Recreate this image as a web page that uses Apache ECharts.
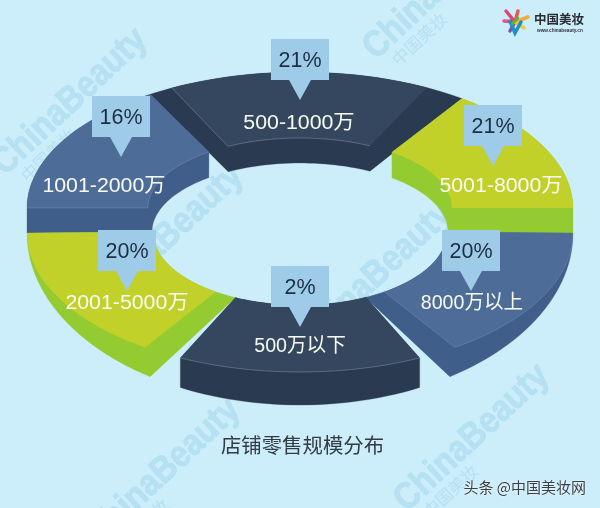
<!DOCTYPE html>
<html><head><meta charset="utf-8">
<style>html,body{margin:0;padding:0;background:#CCEEFB}#c{width:600px;height:508px}</style>
<script src="https://cdn.jsdelivr.net/npm/echarts@6/dist/echarts.min.js"></script>
</head><body><div id="c"></div>
<script>
const categories = ['500-1000万','1001-2000万','5001-8000万','2001-5000万','8000万以上','500万以下'];
const shares = [21,16,21,20,20,2];
const chartTitle = '店铺零售规模分布';
const footerText = '头条 @中国美妆网';
const brandName = '中国美妆';
const brandUrl = 'www.chinabeauty.cn';

const FONT = '"Liberation Sans","Noto Sans CJK SC",sans-serif';
const NAVY = {face:'#34475F', wall:'#2A3A51', edge:'rgba(215,230,245,0.32)'};
const BLUE = {face:'#4D6C98', wall:'#3F5E89', edge:'rgba(215,230,245,0.2)'};
const LIME = {face:'#C2D02A', wall:'#94CB31', edge:null};

// Ellipses of the tilted ring
const E = {
  upO:{cy:208,a:273,b:-136}, upI:{cy:208,a:152,b:-70}, inH:{cy:232,a:148,b:-69},
  loF:{cy:233,a:273,b:139},  loH:{cy:233,a:273,b:172}, loI:{cy:232,a:147,b:73}
};
// Each slice: colour, wall outline, top face and lit edge as runs along those ellipses [ellipse, from°, to°]
const sliceShapes = [
 {c:NAVY, hull:[['upO',123.3,53.6],['inH',61.8,119]], face:[['upO',118,62.3],['upI',62.6,118.3]], edge:[['upO',118,118],['upI',118.3,62.6]]},
 {c:BLUE, hull:[['upO',123.3,180],['loH',180,180],['inH',180,128],['upI',126.8,126.8]], face:[['upO',123.3,180],['upI',180,126.8]], edge:[['upO',180,180],['upI',180,126.8]]},
 {c:LIME, hull:[['upO',53.6,0],['loH',0,0],['inH',0,51.6],['upI',52.8,52.8]], face:[['upO',53.6,0],['upI',0,52.8]]},
 {c:LIME, hull:[['loH',180,123.3],['loI',116,180]], face:[['loF',180,124.6],['loI',124.9,180]]},
 {c:BLUE, hull:[['loH',0,56.7],['loI',63.6,0]], face:[['loF',0,55.4],['loI',55.1,0]], edge:[['loF',0,55.4],['loI',55.1,55.1]]},
 {c:NAVY, hull:[['loF',116,116],['loH',116,64],['loF',64,64],['loI',63.4,116]], face:[['loF',116,64],['loI',63.4,116]], edge:[['loF',116,64]]}
];
// Callout box centre x, box top, and name-label centre
const calloutLayout = [
 {x:300,top:39, lx:299,ly:123},
 {x:121,top:96, lx:104,ly:186},
 {x:493,top:105,lx:501,ly:186},
 {x:127,top:230,lx:127,ly:303},
 {x:471,top:230,lx:472,ly:303},
 {x:300,top:266,lx:300,ly:346}
];
const CX = 300;
function run(r){
  const e=E[r[0]], pts=[], n=r[1]===r[2]?0:28;
  for(let i=0;i<=n;i++){
    const t=(r[1]+(r[2]-r[1])*(n?i/n:0))*Math.PI/180;
    pts.push([CX+e.a*Math.cos(t), e.cy+e.b*Math.sin(t)]);
  }
  return pts;
}
const outline = runs => runs.reduce((acc,r)=>acc.concat(run(r)),[]);

function renderSlice(params, api){
  const s = sliceShapes[api.value(0)];
  const kids = [
    {type:'polygon',shape:{points:outline(s.hull)},style:{fill:s.c.wall,stroke:s.c.wall,lineWidth:0.3}},
    {type:'polygon',shape:{points:outline(s.face)},style:{fill:s.c.face}}
  ];
  if(s.edge) kids.push({type:'polyline',shape:{points:outline(s.edge)},style:{fill:'none',stroke:s.c.edge,lineWidth:0.8}});
  return {type:'group',children:kids};
}
function renderCallout(params, api){
  const i = api.value(0), L = calloutLayout[i], w=29, h=41;
  const stretch = categories[i].indexOf('-')>=0 ? 1.065 : 0.98;
  return {type:'group',children:[
    {type:'polygon',shape:{points:[[L.x-w,L.top],[L.x+w,L.top],[L.x+w,L.top+h],[L.x+11,L.top+h],[L.x,L.top+h+20],[L.x-11,L.top+h],[L.x-w,L.top+h]]},
     style:{fill:'#9DCBE8'}},
    {type:'text',style:{text:shares[i]+'%',x:L.x,y:L.top+22,align:'center',verticalAlign:'middle',fill:'#1E2E44',font:'21.5px '+FONT}},
    {type:'text',x:L.lx,y:L.ly,scaleX:stretch,style:{text:categories[i],x:0,y:0,align:'center',verticalAlign:'middle',fill:'#F7FBF4',font:'20px '+FONT}}
  ]};
}

// Watermarks
const wmCentres = [[70,102],[441,-14],[166,238],[375,276],[163,472],[472,438]];
function wm(x,y,fill,z){
  return {type:'group',x:x,y:y,rotation:43*Math.PI/180,z:z,silent:true,children:[
    {type:'text',scaleX:0.87,style:{text:'ChinaBeauty',x:0,y:0,align:'center',verticalAlign:'middle',fill:fill,font:'bold 37px "Liberation Sans",sans-serif',stroke:fill,lineWidth:0.8}},
    {type:'text',x:-52,y:24,style:{text:'中国美妆',x:0,y:0,align:'center',verticalAlign:'middle',fill:fill,font:'17px "Noto Sans CJK SC",sans-serif'}}
  ]};
}
const graphics = [];
wmCentres.forEach(c=>graphics.push(wm(c[0],c[1],'#B6E1F3',0)));
wmCentres.forEach(c=>graphics.push(wm(c[0],c[1],'rgba(190,225,240,0.10)',50)));

// Logo
const petals = [[-9,-9,'#E5325A'],[3,-9,'#E8483F'],[13,-3,'#F5A623'],[-11,1,'#EE3E7B'],[-5,11,'#7B3FA0'],[9,8,'#F2C81E']];
petals.forEach(p=>graphics.push({type:'line',z:60,shape:{x1:515,y1:22,x2:515+p[0],y2:20+p[1]},style:{stroke:p[2],lineWidth:3.5,lineCap:'round',opacity:0.9}}));
graphics.push({type:'polyline',z:61,shape:{points:[[510,21],[515,33],[521,22]]},style:{stroke:'#1D8FC9',lineWidth:3.5,lineCap:'round',fill:'none'}});
graphics.push({type:'polyline',z:61,shape:{points:[[512,24],[518,18]]},style:{stroke:'#4DB848',lineWidth:2.5,lineCap:'round',fill:'none'}});
graphics.push({type:'text',z:61,style:{text:brandName,x:534,y:19,verticalAlign:'middle',fill:'#2B2B33',font:'bold 12.5px "Noto Sans CJK SC",sans-serif'}});
graphics.push({type:'text',z:61,style:{text:brandUrl,x:537,y:31,verticalAlign:'middle',fill:'#33333B',font:'bold 4.7px "Liberation Sans",sans-serif'}});
// Title and footer
graphics.push({type:'text',z:61,style:{text:chartTitle,x:302.5,y:445,align:'center',verticalAlign:'middle',fill:'#333B42',font:'20.4px "Noto Sans CJK SC",sans-serif'}});
graphics.push({type:'text',z:61,style:{text:footerText,x:586,y:487,align:'right',verticalAlign:'middle',fill:'#3A3F45',font:'15px "Noto Sans CJK SC",sans-serif',textShadowColor:'#fff',textShadowBlur:2}});

const chart = echarts.init(document.getElementById('c'),null,{renderer:'canvas',width:600,height:508});
const rows = categories.map((n,i)=>[i,shares[i],n]);
chart.setOption({
  backgroundColor:'#CCEEFB',
  animation:false,
  graphic:{elements:graphics},
  series:[
    {type:'custom',coordinateSystem:'none',z:10,data:rows,renderItem:renderSlice,silent:true},
    {type:'custom',coordinateSystem:'none',z:20,data:rows,renderItem:renderCallout,silent:true}
  ]
});
</script></body></html>
